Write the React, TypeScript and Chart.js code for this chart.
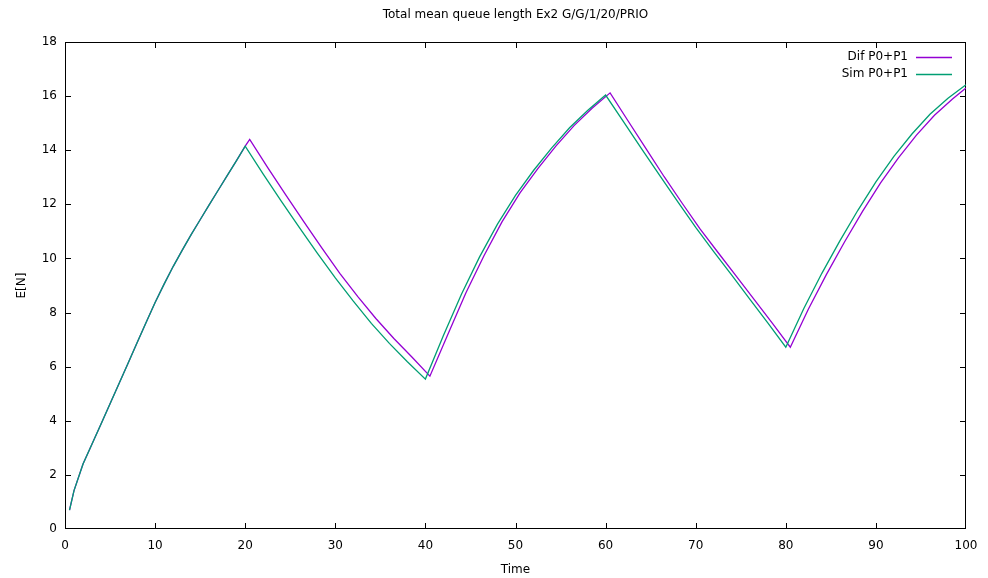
import React, { useEffect, useRef } from "react";
import { Chart, registerables } from "chart.js";

Chart.register(...registerables);

// Time axis samples and mean queue length for each series
const simTime = [
  0.5, 1, 2, 3, 4, 5, 6, 7, 8, 9, 10, 11, 12, 13, 14, 15, 16, 17, 18, 19, 20,
  22, 24, 26, 28, 30, 32, 34, 36, 38, 40,
  42, 44, 46, 48, 50, 52, 54, 56, 58, 60,
  62, 64, 66, 68, 70, 72, 74, 76, 78, 80,
  82, 84, 86, 88, 90, 92, 94, 96, 98, 100,
];
const simValues = [
  0.7, 1.42, 2.4, 3.14, 3.88, 4.63, 5.38, 6.13, 6.88, 7.63, 8.37, 9.05, 9.7, 10.3, 10.88, 11.43, 11.98, 12.52, 13.06, 13.6, 14.15,
  13.12, 12.12, 11.15, 10.2, 9.28, 8.42, 7.6, 6.86, 6.18, 5.54,
  7.15, 8.68, 10.05, 11.27, 12.33, 13.25, 14.08, 14.83, 15.47, 16.04,
  15.05, 14.05, 13.07, 12.1, 11.15, 10.25, 9.38, 8.5, 7.62, 6.72,
  8.15, 9.45, 10.65, 11.78, 12.83, 13.77, 14.6, 15.33, 15.92, 16.42,
];

const difTime = [
  0.5, 1, 2, 3, 4, 5, 6, 7, 8, 9, 10, 11, 12, 13, 14, 15, 16, 17, 18, 19, 20, 20.5,
  22.5, 24.5, 26.5, 28.5, 30.5, 32.5, 34.5, 36.5, 38.5, 40.5,
  42.5, 44.5, 46.5, 48.5, 50.5, 52.5, 54.5, 56.5, 58.5, 60.5,
  62.5, 64.5, 66.5, 68.5, 70.5, 72.5, 74.5, 76.5, 78.5, 80.5,
  82.5, 84.5, 86.5, 88.5, 90.5, 92.5, 94.5, 96.5, 98.5, 100,
];
const difValues = [
  0.7, 1.42, 2.4, 3.14, 3.88, 4.63, 5.38, 6.13, 6.88, 7.63, 8.37, 9.05, 9.7, 10.3, 10.88, 11.43, 11.98, 12.52, 13.06, 13.6, 14.15, 14.4,
  13.36, 12.35, 11.36, 10.39, 9.45, 8.59, 7.78, 7.04, 6.36, 5.65,
  7.2, 8.73, 10.1, 11.35, 12.42, 13.33, 14.16, 14.91, 15.55, 16.12,
  15.08, 14.05, 13.02, 12.04, 11.08, 10.21, 9.35, 8.48, 7.61, 6.72,
  8.12, 9.4, 10.6, 11.73, 12.78, 13.72, 14.56, 15.29, 15.89, 16.3,
];

const seriesLabels = ["Dif P0+P1", "Sim P0+P1"];
const seriesColors = ["#9400d3", "#009e73"];

const titleText = "Total mean queue length Ex2 G/G/1/20/PRIO";
const xTitle = "Time";
const yTitle = "E[N]";

const FONT = "'DejaVu Sans', sans-serif";

// Frame around the plot area plus inward ticks on all four sides
const framePlugin = {
  id: "frame",
  beforeDatasetsDraw(chart: any) {
    const { ctx, chartArea } = chart;
    const { left, right, top, bottom } = chartArea;
    const xs = chart.scales.x;
    const ys = chart.scales.y;
    const len = 6;
    ctx.save();
    ctx.strokeStyle = "#000";
    ctx.lineWidth = 1;
    ctx.beginPath();
    for (const t of xs.ticks) {
      const px = Math.round(xs.getPixelForValue(t.value)) + 0.5;
      if (px <= left + 1 || px >= right - 1) continue;
      ctx.moveTo(px, bottom);
      ctx.lineTo(px, bottom - len);
      ctx.moveTo(px, top);
      ctx.lineTo(px, top + len);
    }
    for (const t of ys.ticks) {
      const py = Math.round(ys.getPixelForValue(t.value)) + 0.5;
      if (py <= top + 1 || py >= bottom - 1) continue;
      ctx.moveTo(left, py);
      ctx.lineTo(left + len, py);
      ctx.moveTo(right, py);
      ctx.lineTo(right - len, py);
    }
    ctx.stroke();
    ctx.strokeRect(
      Math.round(left) + 0.5,
      Math.round(top) + 0.5,
      Math.round(right - left) - 1,
      Math.round(bottom - top) - 1
    );
    ctx.restore();
  },
};

// Key drawn inside the plot's top-right corner: label, then line sample
const keyPlugin = {
  id: "key",
  afterDatasetsDraw(chart: any) {
    const { ctx, chartArea } = chart;
    const textRight = chartArea.right - 58;
    const lineStart = chartArea.right - 50;
    const lineEnd = chartArea.right - 14;
    ctx.save();
    ctx.font = `12px ${FONT}`;
    ctx.textAlign = "right";
    ctx.textBaseline = "middle";
    seriesLabels.forEach((label, i) => {
      const y = chartArea.top + 15 + i * 16.5;
      ctx.fillStyle = "#000";
      ctx.fillText(label, textRight, y);
      ctx.strokeStyle = seriesColors[i];
      ctx.lineWidth = 1.3;
      ctx.beginPath();
      ctx.moveTo(lineStart, Math.round(y) + 0.5);
      ctx.lineTo(lineEnd, Math.round(y) + 0.5);
      ctx.stroke();
    });
    ctx.restore();
  },
};

export default function App() {
  const canvasRef = useRef<HTMLCanvasElement | null>(null);

  useEffect(() => {
    document.body.style.margin = "0";
    const canvas = canvasRef.current;
    if (!canvas) return;

    const chart = new Chart(canvas, {
      type: "line",
      data: {
        datasets: [
          {
            label: seriesLabels[0],
            data: difTime.map((t, i) => ({ x: t, y: difValues[i] })),
            borderColor: seriesColors[0],
            backgroundColor: seriesColors[0],
            borderWidth: 1.3,
            pointRadius: 0,
            tension: 0,
            order: 1,
          },
          {
            label: seriesLabels[1],
            data: simTime.map((t, i) => ({ x: t, y: simValues[i] })),
            borderColor: seriesColors[1],
            backgroundColor: seriesColors[1],
            borderWidth: 1.3,
            pointRadius: 0,
            tension: 0,
            order: 0,
          },
        ],
      },
      options: {
        animation: false,
        responsive: false,
        devicePixelRatio: 1,
        layout: { padding: { top: 0, right: 22, bottom: 0, left: 0 } },
        plugins: {
          legend: { display: false },
          tooltip: { enabled: false },
          title: {
            display: true,
            text: titleText,
            fullSize: false,
            color: "#000",
            font: { family: FONT, size: 12, weight: "normal" },
            padding: { top: 8, bottom: 19.6 },
          },
        },
        scales: {
          x: {
            type: "linear",
            min: 0,
            max: 100,
            afterFit(scale: any) {
              scale.height = 49;
            },
            grid: { display: false, drawTicks: false },
            border: { display: false },
            ticks: {
              stepSize: 10,
              maxRotation: 0,
              autoSkip: false,
              padding: 10,
              color: "#000",
              font: { family: FONT, size: 12 },
            },
            title: {
              display: true,
              text: xTitle,
              color: "#000",
              font: { family: FONT, size: 12 },
              padding: { top: 0, bottom: 1 },
            },
          },
          y: {
            type: "linear",
            min: 0,
            max: 18,
            afterFit(scale: any) {
              scale.width = 65;
            },
            grid: { display: false, drawTicks: false },
            border: { display: false },
            ticks: {
              stepSize: 2,
              padding: 8,
              color: "#000",
              font: { family: FONT, size: 12 },
            },
            title: {
              display: true,
              text: yTitle,
              color: "#000",
              font: { family: FONT, size: 12 },
              padding: { top: 15, bottom: 0 },
            },
          },
        },
      },
      plugins: [framePlugin, keyPlugin],
    });

    return () => chart.destroy();
  }, []);

  return (
    <div style={{ width: 988, height: 578, background: "#fff" }}>
      <canvas ref={canvasRef} width={988} height={578} style={{ display: "block" }} />
    </div>
  );
}
